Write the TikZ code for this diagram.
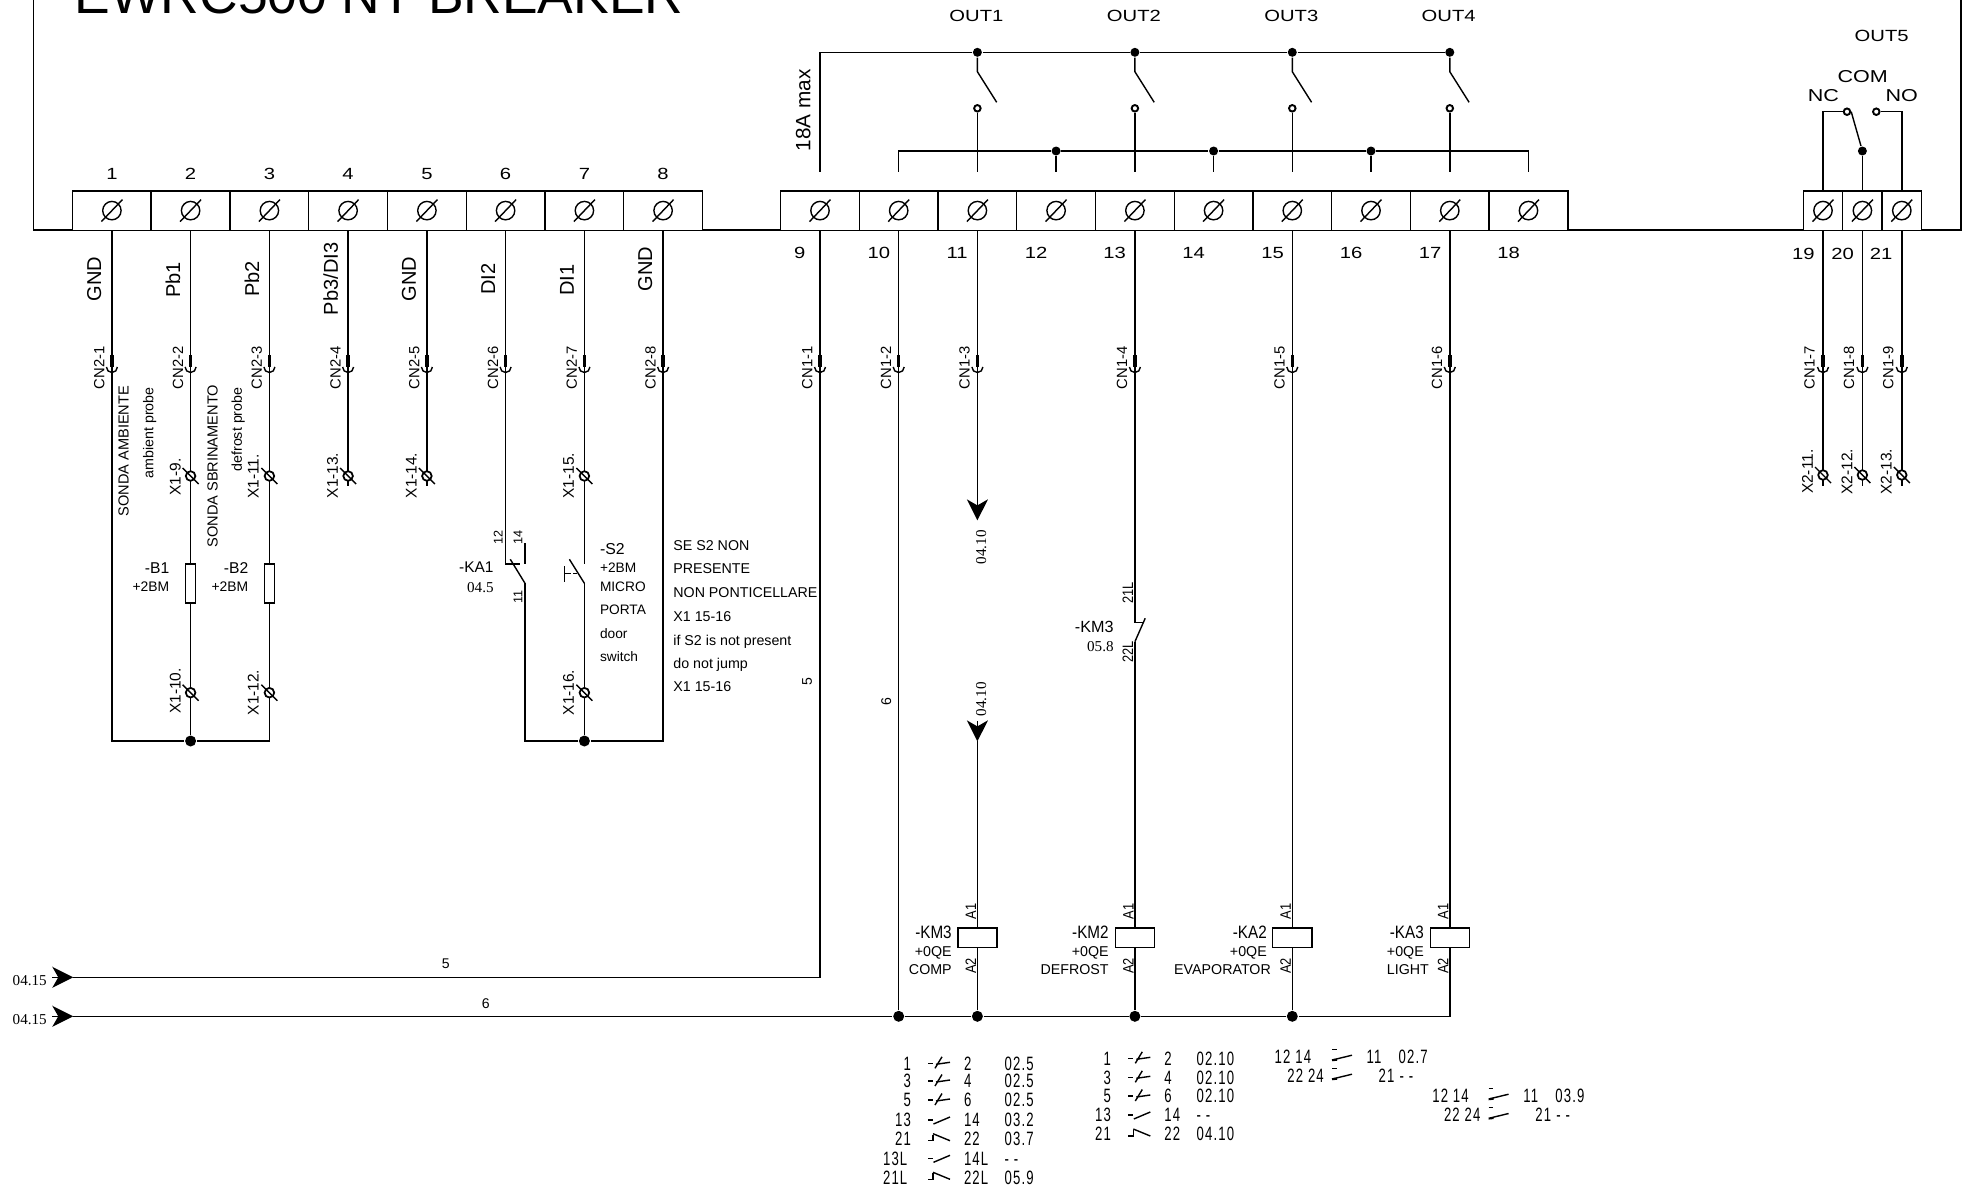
\documentclass[tikz,border=0pt]{standalone}
\usepackage{fontspec}
\setmainfont{Liberation Sans}
\newfontfamily\widefont[FakeStretch=1.25]{Liberation Sans}
\newfontfamily\slimfont[FakeStretch=0.85]{Liberation Sans}
\newfontfamily\tabfont[FakeStretch=0.68,LetterSpace=6]{Liberation Sans}
\newfontfamily\serfont{Liberation Serif}
\usetikzlibrary{arrows.meta}

\tikzset{
    txt/.style={inner sep=0pt, font=\fontsize{#1}{#1}\selectfont, text height=0.72*#1, text depth=0pt},
    txt/.default=4pt,
    widetxt/.style={txt=#1, font=\widefont\fontsize{#1}{#1}\selectfont},
    widetxt/.default=4.6pt,
    slimtxt/.style={txt=#1, font=\slimfont\fontsize{#1}{#1}\selectfont},
    slimtxt/.default=4.3pt,
    tabtxt/.style={txt=5.5pt, font=\tabfont\fontsize{5.5pt}{5.5pt}\selectfont},
    sertxt/.style={txt=4.3pt, font=\serfont\fontsize{4.3pt}{4.3pt}\selectfont},
    term/.style={draw, fill=white, inner sep=0pt, minimum width=0.7875cm, minimum height=0.393cm},
    termthin/.style={term, minimum width=0.394cm},
    coil/.style={draw, fill=white, inner sep=0pt, minimum width=0.39cm, minimum height=0.197cm},
    res/.style={draw, fill=white, inner sep=0pt, minimum width=0.1cm, minimum height=0.39cm},
    dot/.style={circle, fill=black, inner sep=0pt, minimum size=0.11cm},
    smalldot/.style={dot, minimum size=0.09cm},
    opendot/.style={circle, draw, fill=white, inner sep=0pt, line width=0.55pt, minimum size=0.065cm},
    tip/.style={-{Stealth[length=0.21cm, width=0.21cm, inset=0.06cm]}},
    pics/screw/.style={code={
        \draw (0,0) circle[radius=9.2];
        \draw (-10.5,11) -- (10.5,-11);
    }},
    pics/xscrew/.style={code={
        \draw[fill=white, line width=0.5pt] (0,0) circle[radius=4.8];
        \draw (-8,-8) -- (8,8);
    }},
    pics/plug/.style={code={
        \draw[line width=1pt] (0,-12) -- (0,0);
        \draw (-5.5,0) arc[start angle=180, end angle=0, radius=5.5];
    }},
    pics/ncsym/.style={code={
        \draw (-11,0) -- (-6,0);
        \draw (-3,1) -- (11,-1);
        \draw (-4,5) -- (3,-6.5);
    }},
    pics/nosym/.style={code={
        \draw (-11,0) -- (-6,0);
        \draw (-5.5,4) -- (11,-3);
    }},
    pics/nbsym/.style={code={
        \draw (-11,2) -- (-6,2) -- (-6,-4);
        \draw (-6,-5) -- (11,2);
    }},
    pics/cosym/.style={code={
        \draw (-10,-7.5) -- (-5.5,-7.5);
        \draw (-8.5,3) -- (10,-1.5);
        \draw[line width=0.6pt] (-10,3.5) -- (-5,3);
    }}
}

\begin{document}
\begin{tikzpicture}[x=0.01cm, y=-0.01cm, line width=0.4pt]
    \clip (0,0) rectangle (1968,1187);

    \node[txt=15.2pt, anchor=base west, text height=0pt] (title) at (74,13.3) {EWRC500 NT BREAKER};
    \draw (33.5,-5) -- (33.5,230) -- (1961,230) -- (1961,-5);

    % terminals
    \node[term] (t1) at (111.9,210.6) {}; \pic at (t1) {screw};
    \node[term] (t2) at (190.6,210.6) {}; \pic at (t2) {screw};
    \node[term] (t3) at (269.4,210.6) {}; \pic at (t3) {screw};
    \node[term] (t4) at (348.1,210.6) {}; \pic at (t4) {screw};
    \node[term] (t5) at (426.9,210.6) {}; \pic at (t5) {screw};
    \node[term] (t6) at (505.6,210.6) {}; \pic at (t6) {screw};
    \node[term] (t7) at (584.4,210.6) {}; \pic at (t7) {screw};
    \node[term] (t8) at (663.1,210.6) {}; \pic at (t8) {screw};
    \node[term] (t9) at (820,210.6) {}; \pic at (t9) {screw};
    \node[term] (t10) at (898.7,210.6) {}; \pic at (t10) {screw};
    \node[term] (t11) at (977.4,210.6) {}; \pic at (t11) {screw};
    \node[term] (t12) at (1056.1,210.6) {}; \pic at (t12) {screw};
    \node[term] (t13) at (1134.9,210.6) {}; \pic at (t13) {screw};
    \node[term] (t14) at (1213.6,210.6) {}; \pic at (t14) {screw};
    \node[term] (t15) at (1292.3,210.6) {}; \pic at (t15) {screw};
    \node[term] (t16) at (1371,210.6) {}; \pic at (t16) {screw};
    \node[term] (t17) at (1449.8,210.6) {}; \pic at (t17) {screw};
    \node[term] (t18) at (1528.5,210.6) {}; \pic at (t18) {screw};
    \node[termthin] (t19) at (1823,210.6) {}; \pic at (t19) {screw};
    \node[termthin] (t20) at (1862.4,210.6) {}; \pic at (t20) {screw};
    \node[termthin] (t21) at (1901.8,210.6) {}; \pic at (t21) {screw};

    % terminal numbers
    \node[widetxt] (n1) at (111.9,173.7) {1};
    \node[widetxt] (n2) at (190.6,173.7) {2};
    \node[widetxt] (n3) at (269.4,173.7) {3};
    \node[widetxt] (n4) at (348.1,173.7) {4};
    \node[widetxt] (n5) at (426.9,173.7) {5};
    \node[widetxt] (n6) at (505.6,173.7) {6};
    \node[widetxt] (n7) at (584.4,173.7) {7};
    \node[widetxt] (n8) at (663.1,173.7) {8};
    \node[widetxt] (n9) at (799.8,252.3) {9};
    \node[widetxt] (n10) at (878.8,252.3) {10};
    \node[widetxt] (n11) at (957.2,252.3) {11};
    \node[widetxt] (n12) at (1036.2,252.3) {12};
    \node[widetxt] (n13) at (1114.7,252.3) {13};
    \node[widetxt] (n14) at (1193.6,252.3) {14};
    \node[widetxt] (n15) at (1272.6,252.3) {15};
    \node[widetxt] (n16) at (1351,252.3) {16};
    \node[widetxt] (n17) at (1430,252.3) {17};
    \node[widetxt] (n18) at (1508.5,252.3) {18};
    \node[widetxt] (n19) at (1803.3,253.3) {19};
    \node[widetxt] (n20) at (1842.7,253.3) {20};
    \node[widetxt] (n21) at (1881,253.3) {21};

    % relay outputs
    \node[widetxt] (out1) at (976.4,15.7) {OUT1};
    \node[widetxt] (out2) at (1133.9,15.7) {OUT2};
    \node[widetxt] (out3) at (1291.3,15.7) {OUT3};
    \node[widetxt] (out4) at (1448.7,15.7) {OUT4};
    \node[widetxt] (out5) at (1881.7,35.7) {OUT5};
    \node[widetxt=4.9pt] (com) at (1862.7,76) {COM};
    \node[widetxt=4.9pt] (nc) at (1823.3,95) {NC};
    \node[widetxt=4.9pt] (no) at (1901.7,95) {NO};
    \node[txt=5.9pt, rotate=90] (amax) at (803,110.5) {18A max};

    \coordinate (c9) at (820,171.7);
    \coordinate (c10) at (898.7,171.7);
    \coordinate (c11) at (977.4,171.7);
    \coordinate (c12) at (1056.1,171.7);
    \coordinate (c13) at (1134.9,171.7);
    \coordinate (c14) at (1213.6,171.7);
    \coordinate (c15) at (1292.3,171.7);
    \coordinate (c16) at (1371,171.7);
    \coordinate (c17) at (1449.8,171.7);
    \coordinate (c18) at (1528.5,171.7);
    \node[smalldot] (d11) at (977.4,52.3) {};
    \node[smalldot] (d13) at (1134.9,52.3) {};
    \node[smalldot] (d15) at (1292.3,52.3) {};
    \node[smalldot] (d17) at (1449.8,52.3) {};
    \node[smalldot] (d12) at (1056.1,151) {};
    \node[smalldot] (d14) at (1213.6,151) {};
    \node[smalldot] (d16) at (1371,151) {};
    \node[opendot] (o11) at (977.4,108.3) {};
    \node[opendot] (o13) at (1134.9,108.3) {};
    \node[opendot] (o15) at (1292.3,108.3) {};
    \node[opendot] (o17) at (1449.8,108.3) {};
    \draw (c9) |- (d11) -- (d13) -- (d15) -- (d17);
    \draw (c10) |- (d12) -- (d14) -- (d16) -| (c18);
    \draw (d11) -- ++(0,19.4) -- ++(19.3,30.6);
    \draw (d13) -- ++(0,19.4) -- ++(19.3,30.6);
    \draw (d15) -- ++(0,19.4) -- ++(19.3,30.6);
    \draw (d17) -- ++(0,19.4) -- ++(19.3,30.6);
    \draw (o11) -- (c11);
    \draw (o13) -- (c13);
    \draw (o15) -- (c15);
    \draw (o17) -- (c17);
    \draw (d12) -- (c12);
    \draw (d14) -- (c14);
    \draw (d16) -- (c16);

    \node[smalldot] (d20) at (1862.4,151) {};
    \node[opendot] (o19) at (1847,111.7) {};
    \node[opendot] (o21) at (1876.3,111.7) {};
    \draw (t19.north) |- (o19);
    \draw (t21.north) |- (o21);
    \draw (t20.north) -- (d20);
    \draw (d20) -- (o19.east);

    % signal names
    \node[txt=5.7pt, rotate=90] (sig1) at (94,279) {GND};
    \node[txt=5.7pt, rotate=90] (sig2) at (173,280) {Pb1};
    \node[txt=5.7pt, rotate=90] (sig3) at (252,279) {Pb2};
    \node[txt=5.7pt, rotate=90] (sig4) at (330.6,279) {Pb3/DI3};
    \node[txt=5.7pt, rotate=90] (sig5) at (408.6,279) {GND};
    \node[txt=5.7pt, rotate=90] (sig6) at (488,279) {DI2};
    \node[txt=5.7pt, rotate=90] (sig7) at (566.6,280) {DI1};
    \node[txt=5.7pt, rotate=90] (sig8) at (645,269) {GND};

    % connectors
    \pic at (111.9,367) {plug}; \node[txt=4.2pt, rotate=90] (cn1) at (99,367.7) {CN2-1};
    \pic at (190.6,367) {plug}; \node[txt=4.2pt, rotate=90] (cn2) at (177.7,367.7) {CN2-2};
    \pic at (269.4,367) {plug}; \node[txt=4.2pt, rotate=90] (cn3) at (256.5,367.7) {CN2-3};
    \pic at (348.1,367) {plug}; \node[txt=4.2pt, rotate=90] (cn4) at (335.2,367.7) {CN2-4};
    \pic at (426.9,367) {plug}; \node[txt=4.2pt, rotate=90] (cn5) at (414,367.7) {CN2-5};
    \pic at (505.6,367) {plug}; \node[txt=4.2pt, rotate=90] (cn6) at (492.7,367.7) {CN2-6};
    \pic at (584.4,367) {plug}; \node[txt=4.2pt, rotate=90] (cn7) at (571.5,367.7) {CN2-7};
    \pic at (663.1,367) {plug}; \node[txt=4.2pt, rotate=90] (cn8) at (650.2,367.7) {CN2-8};
    \pic at (820,367) {plug}; \node[txt=4.2pt, rotate=90] (cn9) at (807,367.7) {CN1-1};
    \pic at (898.7,367) {plug}; \node[txt=4.2pt, rotate=90] (cn10) at (885.7,367.7) {CN1-2};
    \pic at (977.4,367) {plug}; \node[txt=4.2pt, rotate=90] (cn11) at (964.4,367.7) {CN1-3};
    \pic at (1134.9,367) {plug}; \node[txt=4.2pt, rotate=90] (cn13) at (1121.9,367.7) {CN1-4};
    \pic at (1292.3,367) {plug}; \node[txt=4.2pt, rotate=90] (cn15) at (1279.3,367.7) {CN1-5};
    \pic at (1449.8,367) {plug}; \node[txt=4.2pt, rotate=90] (cn17) at (1436.8,367.7) {CN1-6};
    \pic at (1823,367) {plug}; \node[txt=4.2pt, rotate=90] (cn19) at (1809.3,367.7) {CN1-7};
    \pic at (1862.4,367) {plug}; \node[txt=4.2pt, rotate=90] (cn20) at (1848.7,367.7) {CN1-8};
    \pic at (1901.8,367) {plug}; \node[txt=4.2pt, rotate=90] (cn21) at (1888.1,367.7) {CN1-9};

    % probes
    \node[res] (b1) at (190.6,583.4) {};
    \node[res] (b2) at (269.4,583.4) {};
    \node[dot] (j2) at (190.6,741) {};
    \coordinate (e4) at (348.1,486);
    \coordinate (e5) at (426.9,486);
    \draw (t1.south) |- (j2);
    \draw (t2.south) -- (b1.north);
    \draw (b1.south) -- (j2);
    \draw (t3.south) -- (b2.north);
    \draw (b2.south) |- (j2);
    \draw (t4.south) -- (e4);
    \draw (t5.south) -- (e5);
    \node[txt=4.15pt, rotate=90] (sa) at (123.3,451.2) {SONDA AMBIENTE};
    \node[txt=4.05pt, rotate=90] (sb) at (148.3,432.8) {ambient probe};
    \node[txt=4.15pt, rotate=90] (sc) at (212.3,466.2) {SONDA SBRINAMENTO};
    \node[txt=4.05pt, rotate=90] (sd) at (236.7,429.5) {defrost probe};
    \node[txt=4.45pt, anchor=east] (b1a) at (170,568.3) {-B1};
    \node[txt=3.95pt, anchor=east] (b1b) at (170,586.7) {+2BM};
    \node[txt=4.45pt, anchor=east] (b2a) at (249,568.3) {-B2};
    \node[txt=3.95pt, anchor=east] (b2b) at (249,586.7) {+2BM};

    % door switch
    \coordinate (ka1a) at (505.6,564);
    \coordinate (ka1b) at (525,543.3);
    \coordinate (ka1c) at (525,564);
    \coordinate (ka1d) at (525,583.3);
    \coordinate (s2a) at (584.4,564);
    \coordinate (s2b) at (584.4,583.3);
    \node[dot] (j7) at (584.4,741) {};
    \draw (t6.south) -- (ka1a) -- ++(14.5,0);
    \draw (ka1b) -- (ka1c);
    \draw (ka1d) -- ++(-14.7,-24);
    \draw (ka1d) |- (j7);
    \draw (t7.south) -- (s2a);
    \draw (s2b) -- (j7);
    \draw (s2b) -- ++(-15,-24);
    \draw (564.3,566) -- (564.3,581.7);
    \draw[dash pattern=on 2pt off 0.5pt] (564.3,573.3) -- (576.7,573.3);
    \draw (t8.south) |- (j7);
    \node[txt=3.6pt, rotate=90] (k12) at (498,537) {12};
    \node[txt=3.6pt, rotate=90] (k14) at (517.7,537) {14};
    \node[txt=3.6pt, rotate=90] (k11) at (517.7,596.7) {11};
    \node[txt=4.4pt, anchor=east] (ka1l) at (494.3,567.3) {-KA1};
    \node[sertxt, anchor=east] (ka1r) at (494.3,586.7) {04.5};
    \node[txt=4.5pt, anchor=west] (s2l) at (599.3,548.3) {-S2};
    \node[txt=3.9pt, anchor=west] (s2m) at (599.3,567.3) {+2BM};
    \node[txt=3.9pt, anchor=west] (s2n) at (599.3,586.7) {MICRO};
    \node[txt=3.9pt, anchor=west] (s2o) at (599.3,610) {PORTA};
    \node[txt=3.9pt, anchor=west] (s2p) at (599.3,634) {door};
    \node[txt=3.9pt, anchor=west] (s2q) at (599.3,656.7) {switch};
    \node[txt=4.05pt, anchor=west] (nt1) at (672.7,545.7) {SE S2 NON};
    \node[txt=4.05pt, anchor=west] (nt2) at (672.7,568.3) {PRESENTE};
    \node[txt=4.05pt, anchor=west] (nt3) at (672.7,592.7) {NON PONTICELLARE};
    \node[txt=4.05pt, anchor=west] (nt4) at (672.7,616) {X1 15-16};
    \node[txt=4.05pt, anchor=west] (nt5) at (672.7,640) {if S2 is not present};
    \node[txt=4.05pt, anchor=west] (nt6) at (672.7,663.3) {do not jump};
    \node[txt=4.05pt, anchor=west] (nt7) at (672.7,686.7) {X1 15-16};

    % X1 and X2 clamps
    \pic at (190.6,476) {xscrew}; \node[txt=4.4pt, rotate=90] (x9) at (175,477) {X1-9.};
    \pic at (190.6,692.7) {xscrew}; \node[txt=4.4pt, rotate=90] (x10) at (175,691) {X1-10.};
    \pic at (269.4,476) {xscrew}; \node[txt=4.4pt, rotate=90] (x11) at (253,476.5) {X1-11.};
    \pic at (269.4,692.7) {xscrew}; \node[txt=4.4pt, rotate=90] (x12) at (253,692.5) {X1-12.};
    \pic at (348.1,476) {xscrew}; \node[txt=4.4pt, rotate=90] (x13) at (332.3,475.5) {X1-13.};
    \pic at (426.9,476) {xscrew}; \node[txt=4.4pt, rotate=90] (x14) at (411.1,475.5) {X1-14.};
    \pic at (584.4,476) {xscrew}; \node[txt=4.4pt, rotate=90] (x15) at (568.3,475.8) {X1-15.};
    \pic at (584.4,692.7) {xscrew}; \node[txt=4.4pt, rotate=90] (x16) at (568.3,692.5) {X1-16.};

    \coordinate (e19) at (1823,486);
    \coordinate (e20) at (1862.4,486);
    \coordinate (e21) at (1901.8,486);
    \draw (t19.south) -- (e19);
    \draw (t20.south) -- (e20);
    \draw (t21.south) -- (e21);
    \pic at (1823,475) {xscrew}; \node[txt=4.4pt, rotate=90] (x21) at (1807.3,471.7) {X2-11.};
    \pic at (1862.4,475) {xscrew}; \node[txt=4.4pt, rotate=90] (x22) at (1846.7,471.7) {X2-12.};
    \pic at (1901.8,475) {xscrew}; \node[txt=4.4pt, rotate=90] (x23) at (1886.1,471.7) {X2-13.};

    % coils
    \node[coil] (km3) at (977.4,937.9) {};
    \node[coil] (km2) at (1134.9,937.9) {};
    \node[coil] (ka2) at (1292.3,937.9) {};
    \node[coil] (ka3) at (1449.8,937.9) {};
    \coordinate (arr5) at (73.3,977.3);
    \coordinate (arr6) at (73.3,1016.3);
    \node[dot] (j10) at (898.7,1016.3) {};
    \node[dot] (j11) at (977.4,1016.3) {};
    \node[dot] (j13) at (1134.9,1016.3) {};
    \node[dot] (j15) at (1292.3,1016.3) {};
    \draw[tip] (52.3,977.3) -- (arr5);
    \draw[tip] (52.3,1016.3) -- (arr6);
    \draw (t9.south) |- (arr5);
    \draw (t10.south) -- (j10);
    \draw (arr6) -- (j10) -- (j11) -- (j13) -- (j15);
    \draw (j15) -| (ka3.south);
    \coordinate (a1) at (977.4,520.4);
    \coordinate (a2) at (977.4,741.4);
    \draw[tip] (t11.south) -- (a1);
    \draw[tip] (977.4,721.4) -- (a2);
    \draw (a2) -- (km3.north);
    \draw (km3.south) -- (j11);
    \coordinate (km3a) at (1134.9,622.7);
    \coordinate (km3b) at (1134.9,641.7);
    \draw (t13.south) -- (km3a) -- ++(8.5,0);
    \draw (km3b) -- ++(10.3,-23.4);
    \draw (km3b) -- (km2.north);
    \draw (km2.south) -- (j13);
    \draw (t15.south) -- (ka2.north);
    \draw (ka2.south) -- (j15);
    \draw (t17.south) -- (ka3.north);

    \node[sertxt, rotate=90] (ref1) at (980.8,547.4) {04.10};
    \node[sertxt, rotate=90] (ref2) at (980.8,699.3) {04.10};
    \node[sertxt] (ref3) at (29.7,980) {04.15};
    \node[sertxt] (ref4) at (29.7,1019) {04.15};
    \node[txt] (w5) at (445.7,963.3) {5};
    \node[txt] (w6) at (485.7,1003.3) {6};
    \node[txt, rotate=90] (w5v) at (806.7,681.7) {5};
    \node[txt, rotate=90] (w6v) at (886,701.6) {6};
    \node[slimtxt=4.3pt, rotate=90] (cl1) at (1127.7,593) {21L};
    \node[slimtxt=4.3pt, rotate=90] (cl2) at (1127.7,651.7) {22L};
    \node[txt=4.6pt, anchor=east] (cl3) at (1114.3,626.7) {-KM3};
    \node[sertxt, anchor=east] (cl4) at (1114.3,646) {05.8};

    \node[slimtxt=4.3pt, rotate=90] (aa1) at (970.6,911.6) {A1};
    \node[slimtxt=4.3pt, rotate=90] (aa2) at (970.6,966) {A2};
    \node[slimtxt=4.3pt, rotate=90] (ab1) at (1128.1,911.6) {A1};
    \node[slimtxt=4.3pt, rotate=90] (ab2) at (1128.1,966) {A2};
    \node[slimtxt=4.3pt, rotate=90] (ac1) at (1285.5,911.6) {A1};
    \node[slimtxt=4.3pt, rotate=90] (ac2) at (1285.5,966) {A2};
    \node[slimtxt=4.3pt, rotate=90] (ad1) at (1443,911.6) {A1};
    \node[slimtxt=4.3pt, rotate=90] (ad2) at (1443,966) {A2};

    \node[slimtxt=5.1pt, anchor=east] (la1) at (952.4,931.6) {-KM3};
    \node[txt=4.05pt, anchor=east] (la2) at (952.4,950.9) {+0QE};
    \node[txt=4.05pt, anchor=east] (la3) at (952.4,969.5) {COMP};
    \node[slimtxt=5.1pt, anchor=east] (lb1) at (1109.3,931.6) {-KM2};
    \node[txt=4.05pt, anchor=east] (lb2) at (1109.3,950.9) {+0QE};
    \node[txt=4.05pt, anchor=east] (lb3) at (1109.3,969.5) {DEFROST};
    \node[slimtxt=5.1pt, anchor=east] (lc1) at (1267.5,931.6) {-KA2};
    \node[txt=4.05pt, anchor=east] (lc2) at (1267.5,950.9) {+0QE};
    \node[txt=4.05pt, anchor=east] (lc3) at (1271.5,969.5) {EVAPORATOR};
    \node[slimtxt=5.1pt, anchor=east] (ld1) at (1424.5,931.6) {-KA3};
    \node[txt=4.05pt, anchor=east] (ld2) at (1424.5,950.9) {+0QE};
    \node[txt=4.05pt, anchor=east] (ld3) at (1429.6,969.5) {LIGHT};

    % contact table KM3
    \node[tabtxt, anchor=east] (pa1) at (911.7,1063.3) {1};
    \node[tabtxt, anchor=west] (qa1) at (963.3,1063.3) {2};
    \node[tabtxt, anchor=west] (ra1) at (1004,1063.3) {02.5};
    \pic at (939,1063.3) {ncsym};
    \node[tabtxt, anchor=east] (pa2) at (911.7,1081) {3};
    \node[tabtxt, anchor=west] (qa2) at (963.3,1081) {4};
    \node[tabtxt, anchor=west] (ra2) at (1004,1081) {02.5};
    \pic at (939,1081) {ncsym};
    \node[tabtxt, anchor=east] (pa3) at (911.7,1100) {5};
    \node[tabtxt, anchor=west] (qa3) at (963.3,1100) {6};
    \node[tabtxt, anchor=west] (ra3) at (1004,1100) {02.5};
    \pic at (939,1100) {ncsym};
    \node[tabtxt, anchor=east] (pa4) at (911.7,1120) {13};
    \node[tabtxt, anchor=west] (qa4) at (963.3,1120) {14};
    \node[tabtxt, anchor=west] (ra4) at (1004,1120) {03.2};
    \pic at (939,1120) {nosym};
    \node[tabtxt, anchor=east] (pa5) at (911.7,1138.7) {21};
    \node[tabtxt, anchor=west] (qa5) at (963.3,1138.7) {22};
    \node[tabtxt, anchor=west] (ra5) at (1004,1138.7) {03.7};
    \pic at (939,1138.7) {nbsym};
    \node[tabtxt, anchor=east] (pa6) at (908,1158.3) {13L};
    \node[tabtxt, anchor=west] (qa6) at (963.3,1158.3) {14L};
    \node[tabtxt, anchor=west] (ra6) at (1004,1158.3) {- -};
    \pic at (939,1158.3) {nosym};
    \node[tabtxt, anchor=east] (pa7) at (908,1177.3) {21L};
    \node[tabtxt, anchor=west] (qa7) at (963.3,1177.3) {22L};
    \node[tabtxt, anchor=west] (ra7) at (1004,1177.3) {05.9};
    \pic at (939,1177.3) {nbsym};

    % contact table KM2
    \node[tabtxt, anchor=east] (pb1) at (1111.7,1058.3) {1};
    \node[tabtxt, anchor=west] (qb1) at (1163.6,1058.3) {2};
    \node[tabtxt, anchor=west] (rb1) at (1196,1058.3) {02.10};
    \pic at (1139.3,1058.3) {ncsym};
    \node[tabtxt, anchor=east] (pb2) at (1111.7,1077.3) {3};
    \node[tabtxt, anchor=west] (qb2) at (1163.6,1077.3) {4};
    \node[tabtxt, anchor=west] (rb2) at (1196,1077.3) {02.10};
    \pic at (1139.3,1077.3) {ncsym};
    \node[tabtxt, anchor=east] (pb3) at (1111.7,1096) {5};
    \node[tabtxt, anchor=west] (qb3) at (1163.6,1096) {6};
    \node[tabtxt, anchor=west] (rb3) at (1196,1096) {02.10};
    \pic at (1139.3,1096) {ncsym};
    \node[tabtxt, anchor=east] (pb4) at (1111.7,1115) {13};
    \node[tabtxt, anchor=west] (qb4) at (1163.6,1115) {14};
    \node[tabtxt, anchor=west] (rb4) at (1196,1115) {- -};
    \pic at (1139.3,1115) {nosym};
    \node[tabtxt, anchor=east] (pb5) at (1111.7,1134) {21};
    \node[tabtxt, anchor=west] (qb5) at (1163.6,1134) {22};
    \node[tabtxt, anchor=west] (rb5) at (1196,1134) {04.10};
    \pic at (1139.3,1134) {nbsym};

    % contact table KA2
    \node[tabtxt, anchor=west] (pc1) at (1274,1056.7) {12 14};
    \pic at (1342,1056.7) {cosym};
    \node[tabtxt, anchor=west] (qc1) at (1366,1056.7) {11};
    \node[tabtxt, anchor=west] (rc1) at (1398,1056.7) {02.7};
    \node[tabtxt, anchor=west] (pc2) at (1286.7,1075.7) {22 24};
    \pic at (1342,1075.7) {cosym};
    \node[tabtxt, anchor=west] (qc2) at (1378,1075.7) {21};
    \node[tabtxt, anchor=west] (rc2) at (1399,1075.7) {- -};

    % contact table KA3
    \node[tabtxt, anchor=west] (pd1) at (1431.6,1095.7) {12 14};
    \pic at (1498.6,1095.7) {cosym};
    \node[tabtxt, anchor=west] (qd1) at (1522.6,1095.7) {11};
    \node[tabtxt, anchor=west] (rd1) at (1554.6,1095.7) {03.9};
    \node[tabtxt, anchor=west] (pd2) at (1443.3,1115) {22 24};
    \pic at (1498.6,1115) {cosym};
    \node[tabtxt, anchor=west] (qd2) at (1534.6,1115) {21};
    \node[tabtxt, anchor=west] (rd2) at (1555.6,1115) {- -};
\end{tikzpicture}
\end{document}
